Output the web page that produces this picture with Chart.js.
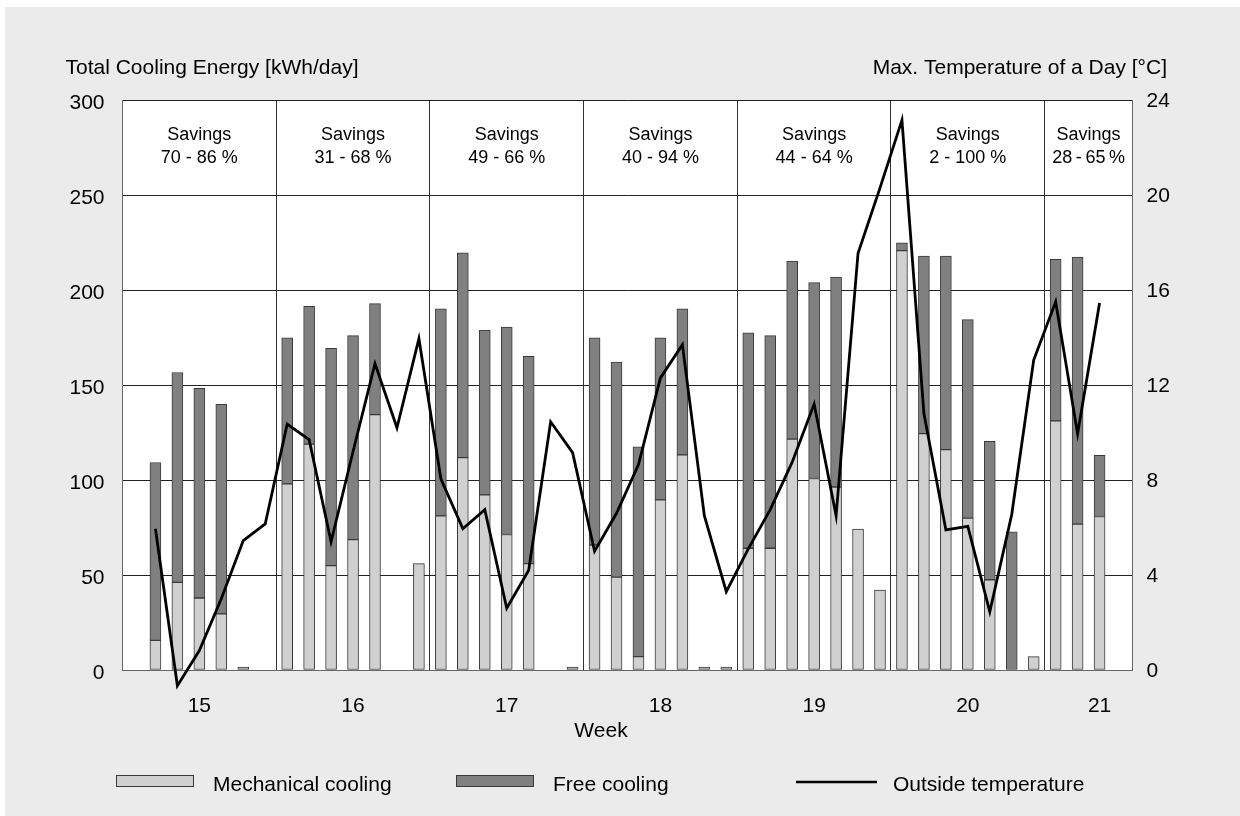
<!DOCTYPE html>
<html>
<head>
<meta charset="utf-8">
<script src="https://cdn.jsdelivr.net/npm/chart.js@4.4.1/dist/chart.umd.min.js"></script>
<style>
html,body{margin:0;padding:0;background:#fff;}
canvas{display:block;}
</style>
</head>
<body>
<canvas id="c" width="1240" height="816"></canvas>
<script>
// ---- data (one entry per day, Monday of week 15 = index 0) ----
const weekLabels = ['15','16','17','18','19','20','21'];
const savingsLabels = ['70 - 86 %','31 - 68 %','49 - 66 %','40 - 94 %','44 - 64 %','2 - 100 %','28\u2009-\u200965\u2009%'];
const daysPerWeek = 7;
const dayCount = 46;
const mechanical = [
  null, 15.6, 46.1, 37.9, 29.5, 1.6, null,
  98, 118.9, 54.9, 68.6, 134.4, null, 56,
  81.1, 111.8, 92.2, 71.3, 56, null, 1.6,
  65.8, 48.9, 7.0, 89.5, 113.2, 1.6, 1.6,
  64.1, 64.1, 121.5, 100.8, 96.3, 74.2, 42,
  220.7, 124.4, 116, 79.9, 47.5, null, 7,
  131.1, 76.8, 80.8, null
];
const freeCooling = [
  null, 93.6, 110.5, 110.3, 110.3, null, null,
  76.8, 72.5, 114.4, 107.4, 58.4, null, null,
  109, 107.7, 86.7, 109.2, 109.1, null, null,
  109, 113.2, 110.5, 85.3, 76.9, null, null,
  113.4, 111.9, 93.7, 103.1, 110.5, null, null,
  4.1, 93.4, 101.8, 104.5, 72.8, 72.7, null,
  85.1, 140.5, 32.2, null
];
const temperature = [
  null, 5.95, -0.66, 0.82, 3.0, 5.45, 6.15,
  10.35, 9.7, 5.4, 9.2, 12.9, 10.2, 13.95,
  8.05, 5.95, 6.75, 2.6, 4.2, 10.45, 9.15,
  5.0, 6.6, 8.65, 12.3, 13.7, 6.5, 3.3,
  5.1, 6.75, 8.75, 11.2, 6.5, 17.55, 20.3,
  23.15, 10.8, 5.9, 6.05, 2.45, 6.55, 13.05,
  15.5, 9.95, 15.45, null
];
const energyAxis = {min: 0, max: 300, step: 50};
const tempAxis = {min: 0, max: 24, step: 4};
const leftTitle = 'Total Cooling Energy [kWh/day]';
const rightTitle = 'Max. Temperature of a Day [\u00B0C]';
const xTitle = 'Week';

// ---- helpers ----
const FONT = '"Liberation Sans", Arial, Helvetica, sans-serif';
const dayLabels = Array.from({length: dayCount}, (_, i) => String(i));
function weekRange(w){ const s = w*daysPerWeek; return [s, Math.min(s+daysPerWeek, dayCount)]; }
const weekTickAt = {};
weekLabels.forEach((lab, w) => { const [s,e] = weekRange(w); weekTickAt[Math.floor((s+e)/2)] = lab; });

const COL_MECH = '#d0d0d0', COL_FREE = '#808080', COL_EDGE = '#3a3a3a';

const bgPlugin = {
  id: 'bg',
  beforeDraw(chart){
    const {ctx, chartArea: a} = chart;
    ctx.save();
    ctx.fillStyle = '#ffffff'; ctx.fillRect(0,0,chart.width,chart.height);
    ctx.fillStyle = '#ebebeb'; ctx.fillRect(5,7,chart.width-5,chart.height-7);
    ctx.fillStyle = '#ffffff'; ctx.fillRect(a.left,a.top,a.right-a.left,a.bottom-a.top);
    ctx.restore();
  }
};

const textPlugin = {
  id: 'texts',
  afterDatasetsDraw(chart){
    const {ctx, scales} = chart;
    const x = scales.x, y = scales.y;
    ctx.save();
    ctx.fillStyle = '#000';
    ctx.font = '18px ' + FONT;
    ctx.textAlign = 'center';
    ctx.textBaseline = 'alphabetic';
    const bandMid = (y.getPixelForValue(300) + y.getPixelForValue(250))/2;
    weekLabels.forEach((lab, w) => {
      const [s,e] = weekRange(w);
      const cx = (x.getPixelForValue(s) + x.getPixelForValue(e-1))/2;
      ctx.fillText('Savings', cx, bandMid - 7.5);
      ctx.fillText(savingsLabels[w], cx, bandMid + 15.5);
    });
    ctx.restore();
  },
  afterDraw(chart){
    const {ctx} = chart;
    ctx.save();
    ctx.fillStyle = '#000';
    ctx.font = '21px ' + FONT;
    ctx.textBaseline = 'alphabetic';
    ctx.textAlign = 'left';
    ctx.fillText(leftTitle, 65.5, 74);
    ctx.textAlign = 'right';
    ctx.fillText(rightTitle, 1167, 74);
    ctx.textAlign = 'center';
    ctx.fillText(xTitle, 601, 737);
    // legend
    const ds = chart.data.datasets;
    const items = [ds[1], ds[2], ds[0]];
    const startX = 116, step = 340, swW = 78, gap = 19;
    ctx.textAlign = 'left';
    items.forEach((d, i) => {
      const sx = startX + i*step;
      if (d.type === 'line') {
        ctx.strokeStyle = d.borderColor; ctx.lineWidth = 2.5;
        ctx.beginPath(); ctx.moveTo(sx, 782); ctx.lineTo(sx + swW + 3, 782); ctx.stroke();
      } else {
        ctx.fillStyle = d.backgroundColor; ctx.fillRect(sx, 775, swW, 12);
        ctx.strokeStyle = d.borderColor; ctx.lineWidth = 1; ctx.strokeRect(sx+0.5, 775.5, swW-1, 11);
      }
      ctx.fillStyle = '#000';
      ctx.fillText(d.label, sx + swW + gap, 791);
    });
    ctx.restore();
  }
};

new Chart(document.getElementById('c'), {
  type: 'bar',
  data: {
    labels: dayLabels,
    datasets: [
      {type: 'line', label: 'Outside temperature', data: temperature, yAxisID: 'y1',
       borderColor: '#000', borderWidth: 2.8, pointRadius: 0, pointHoverRadius: 0, tension: 0,
       fill: false, order: 0, clip: false, spanGaps: false, borderJoinStyle: 'miter'},
      {type: 'bar', label: 'Mechanical cooling', data: mechanical, yAxisID: 'y', stack: 'energy',
       backgroundColor: COL_MECH, borderColor: COL_EDGE, borderWidth: 1, borderSkipped: false,
       barThickness: 11, order: 1},
      {type: 'bar', label: 'Free cooling', data: freeCooling, yAxisID: 'y', stack: 'energy',
       backgroundColor: COL_FREE, borderColor: COL_EDGE, borderWidth: 1, borderSkipped: false,
       barThickness: 11, order: 1}
    ]
  },
  options: {
    responsive: false,
    animation: false,
    devicePixelRatio: 1,
    layout: {padding: {top: 100, left: 0, right: 0, bottom: 0}},
    plugins: {legend: {display: false}, tooltip: {enabled: false}},
    scales: {
      x: {
        type: 'category', stacked: true, offset: true,
        grid: {offset: true, drawTicks: false, lineWidth: 1,
               color: c => (c.index > 0 && c.index % daysPerWeek === 0) ? '#333' : 'rgba(0,0,0,0)'},
        border: {display: true, color: '#666', width: 1},
        ticks: {autoSkip: false, maxRotation: 0, minRotation: 0, padding: 24, color: '#000',
                font: {size: 21, family: FONT},
                callback: (v, i) => weekTickAt[i] || ''},
        afterFit(s){ s.height = 146; }
      },
      y: {
        position: 'left', stacked: true, min: energyAxis.min, max: energyAxis.max,
        ticks: {stepSize: energyAxis.step, padding: 18, labelOffset: 3, color: '#000',
                font: {size: 21, family: FONT}},
        grid: {drawTicks: false, lineWidth: 1, color: c => c.tick && c.tick.value === 0 ? '#666' : '#222'},
        border: {display: true, color: '#666', width: 1},
        afterFit(s){ s.width = 122.5; }
      },
      y1: {
        position: 'right', stacked: false, min: tempAxis.min, max: tempAxis.max,
        ticks: {stepSize: tempAxis.step, padding: 14, labelOffset: 1, color: '#000', font: {size: 21, family: FONT}},
        grid: {display: false, drawTicks: false},
        border: {display: true, color: '#666', width: 1},
        afterFit(s){ s.width = 107.5; }
      }
    }
  },
  plugins: [bgPlugin, textPlugin]
});
</script>
</body>
</html>
